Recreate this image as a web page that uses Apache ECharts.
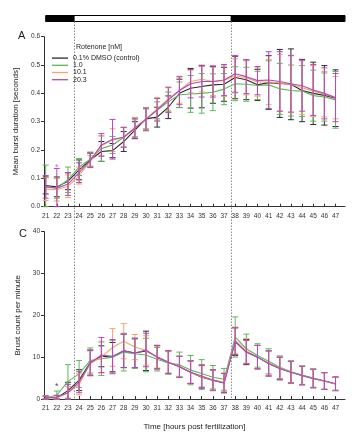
<!DOCTYPE html>
<html>
<head>
<meta charset="utf-8">
<script src="https://cdn.jsdelivr.net/npm/echarts@6/dist/echarts.min.js"></script>
<style>
html,body{margin:0;padding:0;background:#fff;}
#c{width:354px;height:444px;}
</style>
</head>
<body>
<div id="c"></div>
<script>
// ---------- data ----------
const hours = [21,22,23,24,25,26,27,28,29,30,31,32,33,34,35,36,37,38,39,40,41,42,43,44,45,46,47];
const seriesNames = ['0.1% DMSO (control)', '1.0', '10.1', '20.3'];

// Panel A: mean burst duration [seconds]
const durCtrl  = [0.075,0.070,0.090,0.130,0.165,0.195,0.198,0.230,0.270,0.310,0.316,0.351,0.400,0.418,0.424,0.430,0.432,0.456,0.448,0.430,0.438,0.435,0.432,0.410,0.400,0.393,0.383];
const dur1     = [0.072,0.065,0.095,0.140,0.168,0.205,0.218,0.245,0.277,0.310,0.340,0.370,0.395,0.398,0.400,0.404,0.415,0.434,0.432,0.428,0.430,0.416,0.410,0.408,0.392,0.387,0.377];
const dur10    = [0.062,0.060,0.072,0.110,0.160,0.215,0.235,0.245,0.280,0.310,0.345,0.380,0.410,0.442,0.450,0.442,0.445,0.462,0.455,0.440,0.440,0.437,0.432,0.420,0.408,0.397,0.385];
const dur20    = [0.070,0.065,0.080,0.120,0.163,0.218,0.238,0.245,0.277,0.308,0.342,0.377,0.410,0.434,0.442,0.442,0.447,0.469,0.459,0.445,0.447,0.442,0.434,0.427,0.412,0.400,0.385];
const durCtrlErr = [0.030,0.035,0.030,0.035,0.025,0.035,0.025,0.035,0.030,0.040,0.035,0.040,0.050,0.070,0.075,0.065,0.060,0.075,0.070,0.055,0.095,0.120,0.125,0.110,0.110,0.105,0.100];
const dur1Err    = [0.075,0.035,0.045,0.030,0.025,0.045,0.030,0.035,0.030,0.035,0.030,0.035,0.045,0.065,0.070,0.065,0.055,0.060,0.060,0.050,0.085,0.090,0.090,0.090,0.090,0.085,0.100];
const dur10Err   = [0.040,0.040,0.040,0.030,0.020,0.035,0.040,0.035,0.035,0.040,0.040,0.040,0.045,0.040,0.045,0.050,0.055,0.060,0.060,0.050,0.080,0.100,0.100,0.095,0.090,0.080,0.075];
const dur20Err   = [0.040,0.070,0.040,0.035,0.025,0.040,0.070,0.035,0.035,0.040,0.040,0.045,0.050,0.050,0.055,0.055,0.055,0.065,0.060,0.050,0.100,0.105,0.100,0.090,0.090,0.090,0.085];

// Panel C: burst count per minute
const cntCtrl = [0.3,0.3,2.0,4.5,8.7,10.2,10.0,11.5,11.0,11.5,10.0,8.8,7.7,6.4,5.2,4.5,3.8,13.7,11.2,10.0,8.5,7.3,6.4,5.6,4.9,4.3,3.6];
const cnt1    = [0.3,0.9,4.2,6.0,9.2,9.6,10.0,11.2,10.8,10.5,9.5,8.6,8.2,6.9,6.1,5.2,4.7,14.8,12.0,10.4,9.0,7.6,6.5,5.7,5.0,4.3,3.6];
const cnt10   = [0.3,0.3,1.5,3.5,8.5,10.0,12.3,13.8,12.4,11.6,10.0,8.8,7.8,6.4,5.3,4.5,4.0,14.0,11.5,10.0,8.6,7.4,6.4,5.6,4.9,4.3,3.6];
const cnt20   = [0.3,0.4,1.5,4.0,8.6,10.5,10.2,11.5,11.0,11.7,10.0,8.8,7.7,6.4,5.5,4.5,3.8,13.8,11.2,10.0,8.5,7.3,6.4,5.6,4.9,4.3,3.7];
const cntCtrlErr = [0.4,0.5,2.0,2.5,3.0,2.5,3.5,4.0,3.5,4.7,2.8,2.7,2.5,2.7,2.8,2.5,2.3,3.3,3.0,2.8,3.0,2.7,2.6,2.2,2.2,2.0,1.6];
const cnt1Err    = [0.4,1.0,4.0,3.2,3.0,4.0,4.0,4.5,3.5,4.0,2.8,2.7,3.0,3.5,3.3,2.8,2.6,4.8,3.5,2.8,3.0,2.7,2.6,2.2,2.2,2.0,1.6];
const cnt10Err   = [0.4,0.4,1.5,2.5,3.0,3.8,4.5,4.2,3.0,3.5,2.6,2.6,2.4,2.6,2.6,2.4,2.2,3.2,3.0,2.8,2.9,2.7,2.6,2.2,2.2,2.0,1.6];
const cnt20Err   = [0.4,0.5,2.0,2.5,3.0,4.2,4.0,4.0,3.5,4.0,2.8,2.7,2.5,2.7,2.7,2.4,2.3,3.2,2.8,2.8,3.0,2.7,2.6,2.2,2.2,2.0,1.6];

// light/dark schedule bar and transition lines
const phaseStart = [21, 23.55, 37.65];
const phaseEnd   = [23.55, 37.65, 47.85];
const phaseDark  = [true, false, true];
const transitions = [23.55, 37.65];

// significance marks
const starA = [[22, 0.14]];
const starC = [[22, 3.0]];

// ---------- chart ----------
const colors = ['#2b2b2b', '#5cb85a', '#f3a663', '#b845c4'];
const FONT = 'Liberation Sans, Arial, sans-serif';
const X_MIN = 20.85, X_MAX = 47.85;

const durMeans = [durCtrl, dur1, dur10, dur20];
const durErrs = [durCtrlErr, dur1Err, dur10Err, dur20Err];
const cntMeans = [cntCtrl, cnt1, cnt10, cnt20];
const cntErrs = [cntCtrlErr, cnt1Err, cnt10Err, cnt20Err];

function errRender(color) {
  return function (params, api) {
    const x = api.value(0);
    const top = api.coord([x, api.value(2)]);
    const bot = api.coord([x, api.value(1)]);
    const w = 3;
    const st = { stroke: color, lineWidth: 1 };
    return {
      type: 'group',
      children: [
        { type: 'line', shape: { x1: top[0], y1: top[1], x2: bot[0], y2: bot[1] }, style: st },
        { type: 'line', shape: { x1: top[0] - w, y1: top[1], x2: top[0] + w, y2: top[1] }, style: st },
        { type: 'line', shape: { x1: bot[0] - w, y1: bot[1], x2: bot[0] + w, y2: bot[1] }, style: st }
      ]
    };
  };
}

const series = [];
function addPanel(means, errs, gi, floor) {
  for (let k = 0; k < 4; k++) {
    series.push({
      type: 'custom', name: 'err' + gi + '_' + k, xAxisIndex: gi, yAxisIndex: gi,
      renderItem: errRender(colors[k]), z: 2 + k * 2,
      data: hours.map((h, i) => [h, Math.max(floor, means[k][i] - errs[k][i]), means[k][i] + errs[k][i]]),
      silent: true
    });
    series.push({
      type: 'line', name: seriesNames[k], xAxisIndex: gi, yAxisIndex: gi,
      data: hours.map((h, i) => [h, means[k][i]]),
      symbol: 'none', lineStyle: { width: 1.1, color: colors[k] }, itemStyle: { color: colors[k] },
      z: 3 + k * 2, silent: true, animation: false
    });
  }
}
addPanel(durMeans, durErrs, 0, 0);
addPanel(cntMeans, cntErrs, 1, 0);

function starSeries(data, gi, color) {
  return {
    type: 'scatter', xAxisIndex: gi, yAxisIndex: gi, data: data, symbolSize: 0.1,
    itemStyle: { color: color },
    label: { show: true, formatter: '*', position: 'inside', color: color, fontSize: 9, fontFamily: FONT },
    z: 20, silent: true
  };
}
series.push(starSeries(starA, 0, colors[3]));
series.push(starSeries(starC, 1, '#222'));

// overlay: schedule bar + dotted transition lines
series.push({
  type: 'custom', xAxisIndex: 2, yAxisIndex: 2, silent: true, z: 1,
  data: phaseStart.map((s, i) => [s, phaseEnd[i], phaseDark[i] ? 1 : 0]),
  renderItem: function (params, api) {
    const x0 = api.coord([api.value(0), 0])[0];
    const x1 = api.coord([api.value(1), 0])[0];
    const y = params.coordSys.y;
    return { type: 'rect', shape: { x: x0, y: y, width: x1 - x0, height: 6 },
      style: { fill: api.value(2) ? '#000' : '#fff', stroke: '#000', lineWidth: 1 } };
  }
});
series.push({
  type: 'custom', xAxisIndex: 2, yAxisIndex: 2, silent: true, z: 1,
  data: transitions.map(t => [t]),
  renderItem: function (params, api) {
    const x = Math.round(api.coord([api.value(0), 0])[0]) + 0.5;
    const cs = params.coordSys;
    return { type: 'line', shape: { x1: x, y1: cs.y + 6, x2: x, y2: cs.y + cs.height },
      style: { stroke: '#8a8a8a', lineWidth: 1, lineDash: [1.5, 1.5] } };
  }
});

function xAxisDef(gi, show, name) {
  return {
    type: 'value', gridIndex: gi, min: X_MIN, max: X_MAX, show: show,
    splitLine: { show: false },
    axisLine: { show: true, onZero: false, lineStyle: { color: '#333', width: 1 } },
    axisTick: { show: true, inside: true, length: 3, customValues: hours, lineStyle: { color: '#333' } },
    axisLabel: { show: true, customValues: hours, fontSize: 6.5, color: '#333', margin: 6, fontFamily: FONT,
      formatter: v => String(Math.round(v)) },
    name: name || '', nameLocation: 'middle', nameGap: 24,
    nameTextStyle: { fontSize: 8, color: '#222', fontFamily: FONT }
  };
}
function yAxisDef(gi, min, max, interval, name, fmt) {
  return {
    type: 'value', gridIndex: gi, min: min, max: max, interval: interval,
    splitLine: { show: false },
    axisLine: { show: true, lineStyle: { color: '#333', width: 1 } },
    axisTick: { show: true, length: 3, lineStyle: { color: '#333' } },
    axisLabel: { fontSize: 6.5, color: '#333', margin: 4, fontFamily: FONT, formatter: fmt },
    name: name, nameLocation: 'middle', nameGap: 21,
    nameTextStyle: { fontSize: 8, color: '#222', fontFamily: FONT }
  };
}

const option = {
  animation: false,
  backgroundColor: '#fff',
  textStyle: { fontFamily: FONT },
  title: [
    { text: 'A', left: 13, top: 25, textStyle: { fontSize: 11, fontWeight: 'normal', color: '#222', fontFamily: FONT } },
    { text: 'C', left: 14, top: 223, textStyle: { fontSize: 11, fontWeight: 'normal', color: '#222', fontFamily: FONT } },
    { text: 'Rotenone [nM]', left: 71, top: 38.5, textStyle: { fontSize: 7, fontWeight: 'normal', color: '#222', fontFamily: FONT } }
  ],
  legend: {
    data: seriesNames, orient: 'vertical', left: 52, top: 54.5,
    icon: 'rect', itemWidth: 16, itemHeight: 1.3, itemGap: 0,
    textStyle: { fontSize: 7, lineHeight: 7.2, color: '#222', fontFamily: FONT },
    padding: 0, selectedMode: false
  },
  grid: [
    { left: 44, right: 9, top: 36.7, height: 170 },
    { left: 44, right: 9, top: 231.5, height: 167.5 },
    { left: 44, right: 9, top: 15.5, height: 383.5 }
  ],
  xAxis: [ xAxisDef(0, true), xAxisDef(1, true, 'Time [hours post fertilization]'),
    { type: 'value', gridIndex: 2, min: X_MIN, max: X_MAX, show: false } ],
  yAxis: [
    yAxisDef(0, 0, 0.6, 0.1, 'Mean burst duration [seconds]', v => v.toFixed(1)),
    yAxisDef(1, 0, 40, 10, 'Brust count per minute', v => String(v)),
    { type: 'value', gridIndex: 2, min: 0, max: 1, show: false }
  ],
  series: series
};

const chart = echarts.init(document.getElementById('c'), null, { renderer: 'canvas' });
chart.setOption(option);
</script>
</body>
</html>
